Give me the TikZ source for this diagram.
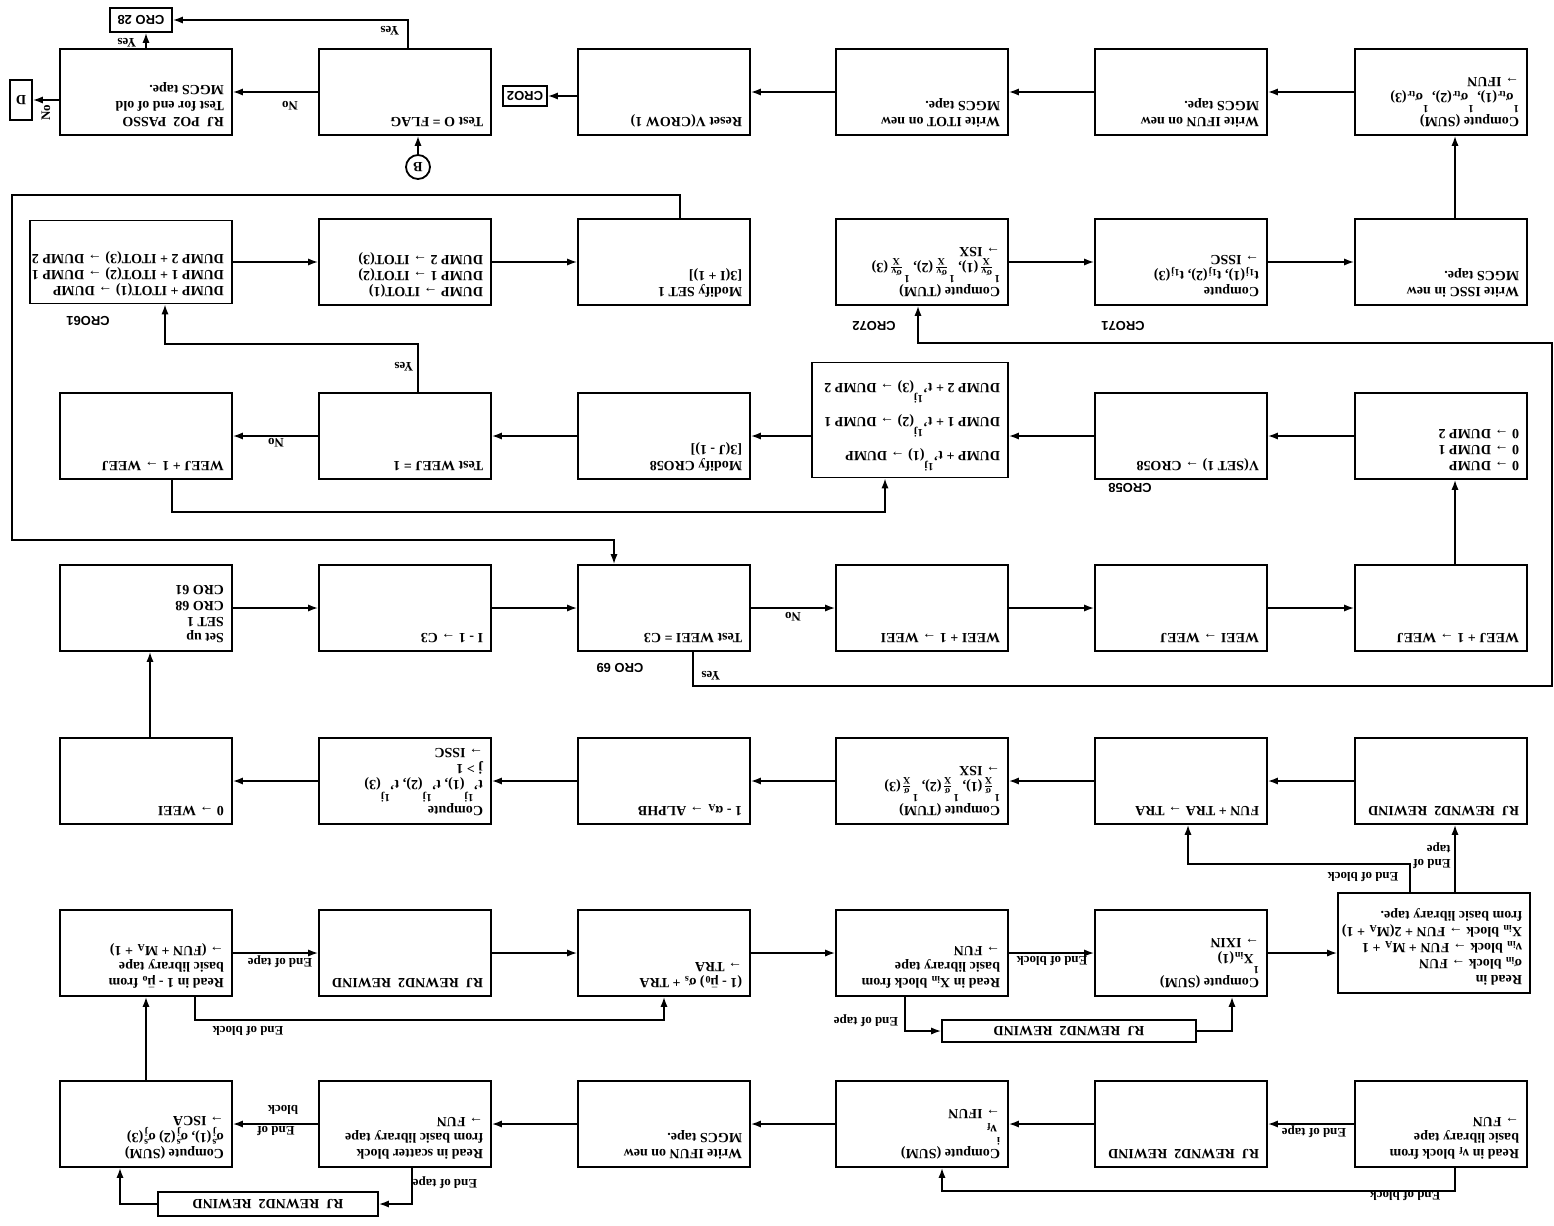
\documentclass[tikz,border=0pt]{standalone}
\usepackage{fontspec}
\usepackage{amsmath}
\usepackage{graphicx}
\setmainfont{Liberation Serif}
\setsansfont{Liberation Sans}
\usetikzlibrary{arrows.meta}

% the page is printed upside down: every text is turned by 180 degrees
\newcommand{\fl}[1]{\rotatebox[origin=c]{180}{#1}}
\newcommand{\ftxtx}[3]{\fl{\parbox[c][#2][t]{#1}{\begin{tabular}[t]{@{}l@{}}#3\end{tabular}}}}
\newcommand{\ftxt}[1]{\ftxtx{78pt}{37pt}{#1}}
\newcommand{\idx}[2][6pt]{\raisebox{#1}{\fontsize{5.5}{6}\selectfont #2}}
\newcommand{\mub}{$\bar{\text{μ}}$}
\newcommand{\sfr}[1]{$\frac{\text{#1}}{\text{X}}$}

\begin{document}
\begin{tikzpicture}[x=0.5pt,y=-0.5pt,
    ->,>={Latex[length=5pt,width=3.6pt]},
    line width=0.8pt,
    box/.style={draw,line width=0.9pt,inner xsep=4pt,inner ysep=3pt,font=\fontsize{7}{8}\selectfont\bfseries},
    tbox/.style={draw,line width=0.9pt,inner sep=0pt,font=\fontsize{7}{8}\selectfont\bfseries},
    lbl/.style={rotate=180,inner sep=0pt,align=left,font=\fontsize{6.5}{7}\selectfont\bfseries},
    cro/.style={rotate=180,inner sep=0pt,font=\fontsize{6.5}{7}\selectfont\sffamily\bfseries},
  ]
  \useasboundingbox (0,0) rectangle (1554,1226);

  % row at the bottom of the page
  \node[box] (A1) at (146,92) {\ftxt{RJ~~PO2~~PASSO\\Test for end of old\\MGCS tape.}};
  \node[box] (B1) at (405,92) {\ftxt{Test O = FLAG}};
  \node[box] (C1) at (664,92) {\ftxt{Reset V(CROW 1)}};
  \node[box] (D1) at (922,92) {\ftxt{Write ITOT on new\\MGCS tape.}};
  \node[box] (E1) at (1181,92) {\ftxt{Write IFUN on new\\MGCS tape.}};
  \node[box] (F1) at (1441,92) {\ftxt{Compute (SUM)\\\idx{1}σ\textsubscript{tr}(1), \idx{1}σ\textsubscript{tr}(2), \idx{1}σ\textsubscript{tr}(3)\\→ IFUN}};
  \node[tbox,minimum width=31pt,minimum height=12pt,font=\fontsize{6.5}{7}\selectfont\sffamily\bfseries] (cro28) at (141,20) {\fl{CRO 28}};
  \node[tbox,minimum width=22pt,minimum height=10pt,font=\fontsize{6.5}{7}\selectfont\sffamily\bfseries] (cro2) at (525,96) {\fl{CRO2}};
  \node[tbox,minimum width=11pt,minimum height=20pt] (dd) at (21,100) {\fl{D}};
  \node[draw,circle,line width=0.9pt,inner sep=0pt,minimum size=12pt,font=\fontsize{7}{8}\selectfont\bfseries] (bcirc) at (418,167) {\fl{B}};

  % second row
  \node[box] (A2) at (131,262) {\ftxtx{93pt}{35.5pt}{DUMP + ITOT(1) → DUMP\\DUMP 1 + ITOT(2) → DUMP 1\\DUMP 2 + ITOT(3) → DUMP 2}};
  \node[box] (B2) at (405,262) {\ftxt{DUMP → ITOT(1)\\DUMP 1 → ITOT(2)\\DUMP 2 → ITOT(3)}};
  \node[box] (C2) at (664,262) {\ftxt{Modify SET 1\\{[}3(I + 1)]}};
  \node[box] (D2) at (922,262) {\ftxt{Compute (TUM)\\\idx{1}\sfr{σ\textsubscript{v}}(1), \idx{1}\sfr{σ\textsubscript{v}}(2), \idx{1}\sfr{σ\textsubscript{v}}(3)\\→ ISX}};
  \node[box] (E2) at (1181,262) {\ftxt{Compute\\t\textsubscript{1j}(1), t\textsubscript{1j}(2), t\textsubscript{1j}(3)\\→ ISSC}};
  \node[box] (F2) at (1441,262) {\ftxt{Write ISSC in new\\MGCS tape.}};
  \node[cro] (lC61) at (88,321) {CRO61};
  \node[cro] (lC72) at (874,326) {CRO72};
  \node[cro] (lC71) at (1123,326) {CRO71};

  % third row
  \node[box] (A3) at (146,436) {\ftxt{WEEJ + 1 → WEEJ}};
  \node[box] (B3) at (405,436) {\ftxt{Test WEEJ = 1}};
  \node[box] (C3) at (664,436) {\ftxt{Modify CRO58\\{[}3(J - 1)]}};
  \node[box] (D3) at (910,420) {\ftxtx{90pt}{51.5pt}{DUMP + t'\idx{1j}(1) → DUMP\\[5pt]DUMP 1 + t'\idx{1j}(2) → DUMP 1\\[5pt]DUMP 2 + t'\idx{1j}(3) → DUMP 2}};
  \node[box] (E3) at (1181,436) {\ftxt{V(SET 1) → CRO58}};
  \node[box] (F3) at (1441,436) {\ftxt{0 → DUMP\\0 → DUMP 1\\0 → DUMP 2}};
  \node[cro] (lC58) at (1130,488) {CRO58};

  % fourth row
  \node[box] (A4) at (146,608) {\ftxt{Set up\\SET 1\\CRO 68\\CRO 61}};
  \node[box] (B4) at (405,608) {\ftxt{I - 1 → C3}};
  \node[box] (C4) at (664,608) {\ftxt{Test WEEI = C3}};
  \node[box] (D4) at (922,608) {\ftxt{WEEI + 1 → WEEI}};
  \node[box] (E4) at (1181,608) {\ftxt{WEEI → WEEJ}};
  \node[box] (F4) at (1441,608) {\ftxt{WEEJ + 1 → WEEJ}};
  \node[cro] (lC69) at (620,668) {CRO 69};

  % fifth row
  \node[box] (A5) at (146,781) {\ftxt{0 → WEEI}};
  \node[box] (B5) at (405,781) {\ftxt{Compute\\t'\idx[7pt]{1j}(1), t'\idx[7pt]{1j}(2), t'\idx[7pt]{1j}(3)\\j > 1\\→ ISSC}};
  \node[box] (C5) at (664,781) {\ftxt{1 - α\textsubscript{A} → ALPHB}};
  \node[box] (D5) at (922,781) {\ftxt{Compute (TUM)\\\idx{1}\sfr{σ}(1), \idx{1}\sfr{σ}(2), \idx{1}\sfr{σ}(3)\\→ ISX}};
  \node[box] (E5) at (1181,781) {\ftxt{FUN + TRA → TRA}};
  \node[box] (F5) at (1441,781) {\ftxt{RJ~~REWND2~~REWIND}};

  % sixth row
  \node[box] (A6) at (146,953) {\ftxt{Read in 1 - \mub\textsubscript{o} from\\basic library tape\\→ (FUN + M\textsubscript{A} + 1)}};
  \node[box] (B6) at (405,953) {\ftxt{RJ~~REWND2~~REWIND}};
  \node[box] (C6) at (664,953) {\ftxt{(1 - \mub\textsubscript{0}) σ\textsubscript{s} + TRA\\→ TRA}};
  \node[box] (D6) at (922,953) {\ftxt{Read in X\textsubscript{in} block from\\basic library tape\\→ FUN}};
  \node[box] (E6) at (1181,953) {\ftxt{Compute (SUM)\\\idx{1}X\textsubscript{in}(1)\\→ IXIN}};
  \node[box] (F6) at (1434,943) {\ftxtx{88pt}{44pt}{Read in\\σ\textsubscript{in} block → FUN\\ν\textsubscript{in} block → FUN + M\textsubscript{A} + 1\\X\textsubscript{in} block → FUN + 2(M\textsubscript{A} + 1)\\from basic library tape.}};
  \node[tbox,minimum width=127pt,minimum height=11pt] (N2) at (1069,1031) {\fl{RJ~~REWND2~~REWIND}};

  % row at the top of the page
  \node[box] (A7) at (146,1124) {\ftxt{Compute (SUM)\\$\text{σ}^{\text{s}}_{\text{j}}$(1), $\text{σ}^{\text{s}}_{\text{j}}$(2) $\text{σ}^{\text{s}}_{\text{j}}$(3)\\→ ISCA}};
  \node[box] (B7) at (405,1124) {\ftxt{Read in scatter block\\from basic library tape\\→ FUN}};
  \node[box] (C7) at (664,1124) {\ftxt{Write IFUN on new\\MGCS tape.}};
  \node[box] (D7) at (922,1124) {\ftxt{Compute (SUM)\\\idx{i}ν\textsubscript{f}\\→ IFUN}};
  \node[box] (E7) at (1181,1124) {\ftxt{RJ~~REWND2~~REWIND}};
  \node[box] (F7) at (1441,1124) {\ftxt{Read in ν\textsubscript{f} block from\\basic library tape\\→ FUN}};
  \node[tbox,minimum width=110pt,minimum height=12pt] (N1) at (268,1204) {\fl{RJ~~REWND2~~REWIND}};

  % connectors, top row of the page upwards
  \draw (F7.west) -- (E7.east);
  \draw (E7.west) -- (D7.east);
  \draw (D7.west) -- (C7.east);
  \draw (C7.west) -- (B7.east);
  \draw (B7.west) -- (A7.east);
  \draw ([xshift=3.5pt]B7.south) |- (N1.east);
  \draw (N1.west) -| ([xshift=-13pt]A7.south);
  \draw ([xshift=7pt]F7.south) -- ++(0,23) -| ([xshift=10pt]D7.south);
  \draw (A7.north) -- (A6.south);

  \draw (A6.east) -- (B6.west);
  \draw (B6.east) -- (C6.west);
  \draw ([xshift=24.5pt]A6.south) -- ++(0,23) -| (C6.south);
  \draw (C6.east) -- (D6.west);
  \draw (D6.east) -- (E6.west);
  \draw ([xshift=-8.5pt]D6.south) |- (N2.west);
  \draw (N2.east) -| ([xshift=25.5pt]E6.south);
  \draw (E6.east) -- (E6.east -| F6.west);
  \draw ([xshift=-12pt]F6.north) -- ++(0,-28) -| ([xshift=3.5pt]E5.south);
  \draw ([xshift=10.5pt]F6.north) -- ([xshift=7pt]F5.south);

  \draw (F5.west) -- (E5.east);
  \draw (E5.west) -- (D5.east);
  \draw (D5.west) -- (C5.east);
  \draw (C5.west) -- (B5.east);
  \draw (B5.west) -- (A5.east);
  \draw ([xshift=2pt]A5.north) -- ([xshift=2pt]A4.south);

  \draw (A4.east) -- (B4.west);
  \draw (B4.east) -- (C4.west);
  \draw (C4.east) -- (D4.west);
  \draw (D4.east) -- (E4.west);
  \draw (E4.east) -- (F4.west);
  \draw ([xshift=7pt]F4.north) -- ([xshift=7pt]F3.south);
  \draw ([xshift=14.5pt]C4.south) -- ++(0,34) -| (1552,343) -| ([xshift=-2pt]D2.south);

  \draw (F3.west) -- (E3.east);
  \draw (E3.west) -- (E3.west -| D3.east);
  \draw (D3.west |- C3.east) -- (C3.east);
  \draw (C3.west) -- (B3.east);
  \draw (B3.west) -- (A3.east);
  \draw ([xshift=13pt]A3.south) -- ++(0,32) -| ([xshift=-12.5pt]D3.south);
  \draw ([xshift=6.5pt]B3.north) -- ++(0,-48) -| ([xshift=17pt]A2.south);

  \draw (A2.east) -- (B2.west);
  \draw (B2.east) -- (C2.west);
  \draw ([xshift=8pt]C2.north) -- ++(0,-23) -| (12,540) -| ([xshift=-25pt]C4.north);
  \draw (D2.east) -- (E2.west);
  \draw (E2.east) -- (F2.west);
  \draw ([xshift=7pt]F2.north) -- ([xshift=7pt]F1.south);

  \draw (F1.west) -- (E1.east);
  \draw (E1.west) -- (D1.east);
  \draw (D1.west) -- (C1.east);
  \draw (C1.west |- cro2.east) -- (cro2.east);
  \draw (bcirc.north) -- (bcirc.north |- B1.south);
  \draw (B1.west) -- (A1.east);
  \draw (A1.west |- dd.east) -- (dd.east);
  \draw ([xshift=1.5pt]B1.north) |- (cro28.east);
  \draw (A1.north) -- (A1.north |- cro28.south);

  % branch labels
  \node[lbl] (lTape1) at (1314,1132) {End of tape};
  \node[lbl] (lEndOf1) at (276,1131) {End of};
  \node[lbl] (lBlock1) at (283,1110) {block};
  \node[lbl] (lTape2) at (445,1183) {End of tape};
  \node[lbl] (lBlock2) at (1405,1196) {End of block};
  \node[lbl] (lTape3) at (280,962) {End of tape};
  \node[lbl] (lBlock3) at (248,1031) {End of block};
  \node[lbl] (lBlock4) at (1052,961) {End of block};
  \node[lbl] (lTape4) at (866,1021) {End of tape};
  \node[lbl] (lBlock5) at (1363,877) {End of block};
  \node[lbl] (lTape5) at (1432,856) {End of\\tape};
  \node[lbl] (lNo1) at (290,106) {No};
  \node[lbl] (lYes1) at (390,31) {Yes};
  \node[lbl] (lYes2) at (127,43) {Yes};
  \node[lbl,rotate=-90] (lNo2) at (46,113) {No};
  \node[lbl] (lNo3) at (793,617) {No};
  \node[lbl] (lYes3) at (711,676) {Yes};
  \node[lbl] (lNo4) at (276,443) {No};
  \node[lbl] (lYes4) at (404,367) {Yes};
\end{tikzpicture}
\end{document}
